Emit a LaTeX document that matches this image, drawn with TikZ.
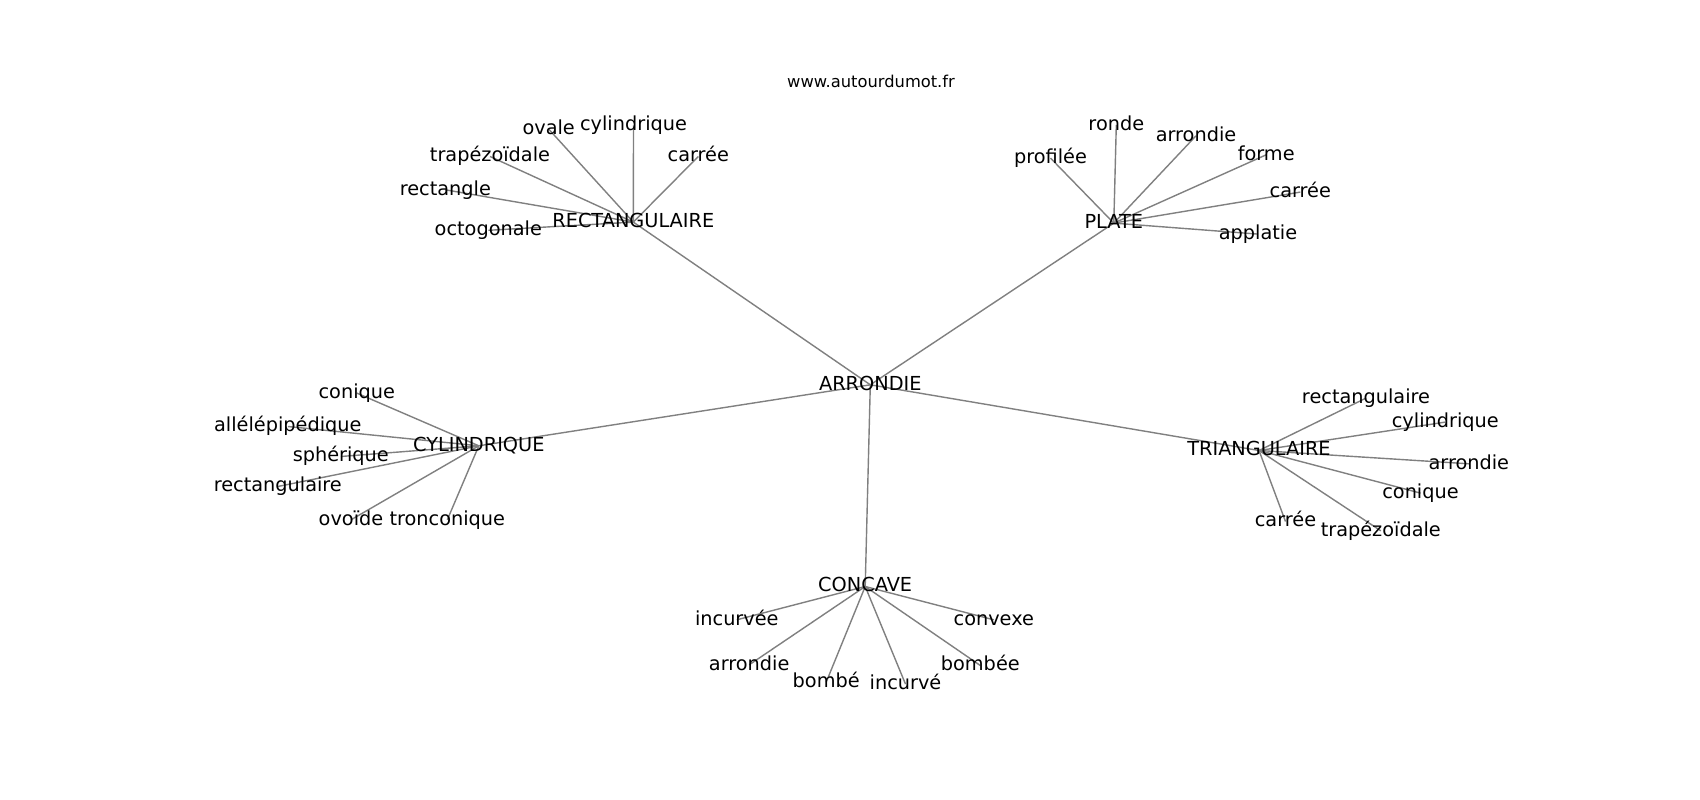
\documentclass[tikz,border=0pt]{standalone}
\usepackage{fontspec}
\setmainfont{DejaVu Sans}
\usetikzlibrary{backgrounds}
\definecolor{edgegray}{HTML}{808080}
\tikzset{
  lbl/.style={inner sep=0pt, outer sep=0pt, text height=14.6pt, text depth=4pt,
    font=\fontsize{19.3}{23}\selectfont, text=black},
  ttl/.style={inner sep=0pt, outer sep=0pt, text height=12.3pt, text depth=3.4pt,
    font=\fontsize{16.3}{20}\selectfont, text=black},
  lnk/.style={draw=edgegray, line width=1.4pt}
}
\begin{document}
\begin{tikzpicture}[x=1pt,y=-1pt]
\useasboundingbox (0,0) rectangle (1700,800);
\node[ttl] (title) at (871,83.5) {www.autourdumot.fr};
% hubs
\node[lbl] (arr) at (870.3,384.8) {ARRONDIE};
\node[lbl] (rect) at (633.3,222.1) {RECTANGULAIRE};
\node[lbl] (plate) at (1113.8,223.1) {PLATE};
\node[lbl] (cyl) at (478.8,445.8) {CYLINDRIQUE};
\node[lbl] (tri) at (1259,450.5) {TRIANGULAIRE};
\node[lbl] (conc) at (865.2,586.5) {CONCAVE};
% RECTANGULAIRE leaves
\node[lbl] (r1) at (548.7,129.1) {ovale};
\node[lbl] (r2) at (633.5,125.5) {cylindrique};
\node[lbl] (r3) at (490,156.5) {trapézoïdale};
\node[lbl] (r4) at (698.3,156.5) {carrée};
\node[lbl] (r5) at (445.3,189.8) {rectangle};
\node[lbl] (r6) at (488.3,230.3) {octogonale};
% PLATE leaves
\node[lbl] (p1) at (1116.3,124.8) {ronde};
\node[lbl] (p2) at (1196,135.8) {arrondie};
\node[lbl] (p3) at (1050.5,158.1) {profilée};
\node[lbl] (p4) at (1266.2,154.8) {forme};
\node[lbl] (p5) at (1300.3,192.1) {carrée};
\node[lbl] (p6) at (1258,234.1) {applatie};
% CYLINDRIQUE leaves
\node[lbl] (c1) at (356.8,393.1) {conique};
\node[lbl] (c2) at (287.8,426.5) {allélépipédique};
\node[lbl] (c3) at (340.8,456.5) {sphérique};
\node[lbl] (c4) at (277.8,486.5) {rectangulaire};
\node[lbl] (c5) at (351,519.8) {ovoïde};
\node[lbl] (c6) at (447.3,519.8) {tronconique};
% TRIANGULAIRE leaves
\node[lbl] (t1) at (1366,398.1) {rectangulaire};
\node[lbl] (t2) at (1445.3,422.1) {cylindrique};
\node[lbl] (t3) at (1468.8,463.8) {arrondie};
\node[lbl] (t4) at (1420.5,493.1) {conique};
\node[lbl] (t5) at (1285.5,521.5) {carrée};
\node[lbl] (t6) at (1380.8,530.8) {trapézoïdale};
% CONCAVE leaves
\node[lbl] (k1) at (736.8,619.8) {incurvée};
\node[lbl] (k2) at (993.8,619.8) {convexe};
\node[lbl] (k3) at (749.2,664.8) {arrondie};
\node[lbl] (k4) at (980.3,665.5) {bombée};
\node[lbl] (k5) at (826.2,682.1) {bombé};
\node[lbl] (k6) at (905.5,684.1) {incurvé};
\begin{scope}[on background layer]
\fill[white] (0,0) rectangle (1700,800);
\foreach \h in {rect,plate,cyl,tri,conc} \draw[lnk] (arr.center) -- (\h.center);
\foreach \l in {r1,r2,r3,r4,r5,r6} \draw[lnk] (rect.center) -- (\l.center);
\foreach \l in {p1,p2,p3,p4,p5,p6} \draw[lnk] (plate.center) -- (\l.center);
\foreach \l in {c1,c2,c3,c4,c5,c6} \draw[lnk] (cyl.center) -- (\l.center);
\foreach \l in {t1,t2,t3,t4,t5,t6} \draw[lnk] (tri.center) -- (\l.center);
\foreach \l in {k1,k2,k3,k4,k5,k6} \draw[lnk] (conc.center) -- (\l.center);
\end{scope}
\end{tikzpicture}
\end{document}
